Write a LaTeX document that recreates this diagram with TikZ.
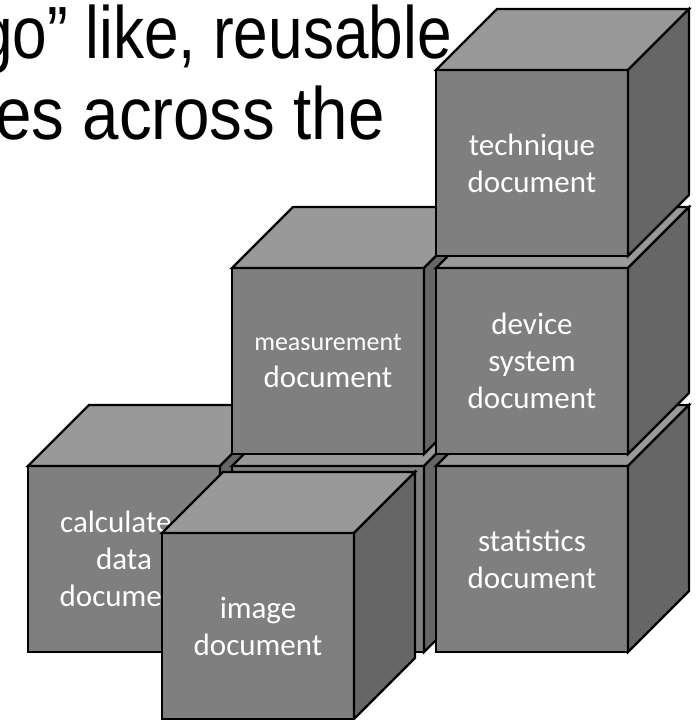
\documentclass[tikz,border=0pt]{standalone}
\usepackage{fontspec}
\setmainfont{Carlito}
\newfontfamily\titlefont{Liberation Sans}
\definecolor{frontgray}{HTML}{7F7F7F}
\definecolor{topgray}{HTML}{999999}
\definecolor{sidegray}{HTML}{666666}
\newcommand\cubebox[4]{%
  \node[face] (#1) at (#2,#3) {#4};
  \draw[topface] (#1.north west) -- ++(61,-61) -- ++(192,0) -- (#1.north east) -- cycle;
  \draw[sideface] (#1.north east) -- ++(61,-61) -- ++(0,186) -- (#1.south east) -- cycle;
}
\begin{document}
\begin{tikzpicture}[x=1pt,y=-1pt,
  face/.style={draw=black, line width=2.2pt, fill=frontgray, minimum width=192pt,
    minimum height=186pt, anchor=north west, inner sep=0pt, outer sep=0pt,
    align=center, text=white, font=\fontsize{31}{37}\selectfont},
  topface/.style={draw=black, line width=2.2pt, fill=topgray, line join=miter},
  sideface/.style={draw=black, line width=2.2pt, fill=sidegray, line join=miter},
  titletext/.style={anchor=base east, inner sep=0pt, font=\titlefont\fontsize{74}{84}\selectfont}]
\useasboundingbox (0,0) rectangle (700,720);
\clip (0,0) rectangle (700,720);
\node[titletext] (t1) at (452,58) {\scalebox{0.84}[1]{go” like, reusable}};
\node[titletext] (t2) at (385,139) {\scalebox{0.885}[1]{es across the}};
% bottom row
\cubebox{calc}{28}{466}{calculated\\data\\document}
\cubebox{lowmid}{232}{466}{}
\cubebox{stat}{436}{466}{statistics\\document}
% middle row
\cubebox{meas}{232}{268}{{\fontsize{26}{31}\selectfont measurement}\\document}
\cubebox{dev}{436}{268}{device\\system\\document}
% top row
\cubebox{tech}{436}{70}{technique\\document}
% front cube
\cubebox{image}{162}{533}{image\\document}
\end{tikzpicture}
\end{document}
